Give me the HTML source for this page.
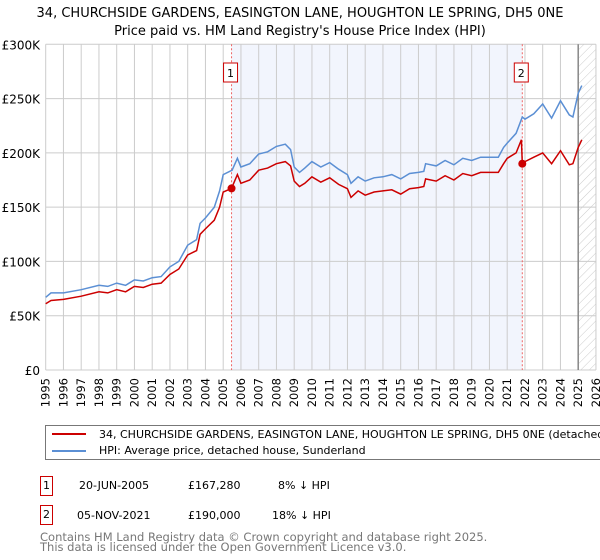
<!DOCTYPE html>
<html><head><meta charset="utf-8"><style>
body{margin:0;width:600px;height:560px;background:#fff;font-family:"Liberation Sans","DejaVu Sans",sans-serif;overflow:hidden;position:relative}
.t{position:absolute;white-space:nowrap}
</style></head><body>
<svg width="600" height="560" style="position:absolute;left:0;top:0">
<defs><pattern id="h" width="6" height="6" patternUnits="userSpaceOnUse" patternTransform="rotate(45)"><line x1="0" y1="0" x2="0" y2="6" stroke="#ccc" stroke-width="1"/></pattern></defs>
<text x="300" y="17" text-anchor="middle" font-size="13" font-family="DejaVu Sans,sans-serif">34, CHURCHSIDE GARDENS, EASINGTON LANE, HOUGHTON LE SPRING, DH5 0NE</text>
<text x="300" y="35" text-anchor="middle" font-size="13" font-family="DejaVu Sans,sans-serif">Price paid vs. HM Land Registry's House Price Index (HPI)</text>
<g id="plot"></g>
</svg>
<div class="t" style="left:45px;top:425px;width:560px;height:35px;border:1px solid #777;box-sizing:border-box;overflow:hidden;font-size:11px;font-family:'DejaVu Sans',sans-serif">
<div style="position:absolute;left:6px;top:7px;width:34px;height:2px;background:#cc0000"></div>
<div class="t" style="left:53px;top:2px">34, CHURCHSIDE GARDENS, EASINGTON LANE, HOUGHTON LE SPRING, DH5 0NE (detached house)</div>
<div style="position:absolute;left:6px;top:24px;width:34px;height:2px;background:#5b8fd4"></div>
<div class="t" style="left:53px;top:18px">HPI: Average price, detached house, Sunderland</div>
</div>
<div style="font-family:'DejaVu Sans',sans-serif;font-size:11px">
<div class="t" style="left:40px;top:476px;width:11px;height:18px;border:1px solid #c00;text-align:center;line-height:18px">1</div>
<div class="t" style="left:79px;top:479px">20-JUN-2005</div>
<div class="t" style="left:188px;top:479px">£167,280</div>
<div class="t" style="left:278px;top:479px">8% ↓ HPI</div>
<div class="t" style="left:40px;top:505px;width:11px;height:18px;border:1px solid #c00;text-align:center;line-height:18px">2</div>
<div class="t" style="left:77px;top:509px">05-NOV-2021</div>
<div class="t" style="left:188px;top:509px">£190,000</div>
<div class="t" style="left:272px;top:509px">18% ↓ HPI</div>
<div class="t" style="left:40px;top:532px;color:#777;font-size:11.5px;line-height:10px">Contains HM Land Registry data © Crown copyright and database right 2025.<br>This data is licensed under the Open Government Licence v3.0.</div>
</div>
<script>
const hpiYears=[1995,1995.3,1996,1997,1998,1998.5,1999,1999.5,2000,2000.5,2001,2001.5,2002,2002.5,2003,2003.5,2003.7,2004,2004.5,2004.8,2005,2005.5,2005.8,2006,2006.5,2007,2007.5,2008,2008.5,2008.8,2009,2009.3,2009.6,2010,2010.5,2011,2011.5,2012,2012.2,2012.6,2013,2013.5,2014,2014.5,2015,2015.5,2016,2016.3,2016.4,2017,2017.5,2018,2018.5,2019,2019.5,2020,2020.5,2020.8,2021,2021.5,2021.85,2022,2022.5,2023,2023.5,2024,2024.5,2024.7,2025,2025.2];
const hpiValues=[67,71,71,74,78,77,80,78,83,82,85,86,95,100,115,120,135,140,150,165,180,184,195,187,190,199,201,206,208,203,187,182,186,192,187,191,185,180,172,178,174,177,178,180,176,181,182,183,190,188,193,189,195,193,196,196,196,205,209,218,233,231,236,245,232,248,235,233,255,262];
const priceYears=[1995,1995.3,1996,1997,1998,1998.5,1999,1999.5,2000,2000.5,2001,2001.5,2002,2002.5,2003,2003.5,2003.7,2004,2004.5,2004.8,2005,2005.47,2005.8,2006,2006.5,2007,2007.5,2008,2008.5,2008.8,2009,2009.3,2009.6,2010,2010.5,2011,2011.5,2012,2012.2,2012.6,2013,2013.5,2014,2014.5,2015,2015.5,2016,2016.3,2016.4,2017,2017.5,2018,2018.5,2019,2019.5,2020,2020.5,2020.8,2021,2021.5,2021.8,2021.85,2022,2022.5,2023,2023.5,2024,2024.5,2024.7,2025,2025.2];
const priceValues=[61,64,65,68,72,71,74,72,77,76,79,80,88,93,106,110,125,130,138,150,164,167.28,180,172,175,184,186,190,192,188,174,169,172,178,173,177,171,167,159,165,161,164,165,166,162,167,168,169,176,174,179,175,181,179,182,182,182,190,195,200,212,190,192,196,200,190,202,189,190,205,212];
const saleYears=[2005.47,2021.85];
const saleValues=[167.28,190];
const saleLabels=["1","2"];
const yTicks=[0,50,100,150,200,250,300];
const yTickLabels=["£0","£50K","£100K","£150K","£200K","£250K","£300K"];
const xTicks=[];for(let y=1995;y<=2026;y++)xTicks.push(y);
const X0=45.7,XS=17.75,Y0=370,YS=325.7/300;
const x=v=>X0+(v-1995)*XS, y=v=>Y0-v*YS;
const NS="http://www.w3.org/2000/svg",g=document.getElementById('plot');
function mk(t,a){const e=document.createElementNS(NS,t);for(const k in a)e.setAttribute(k,a[k]);g.appendChild(e);return e;}
let e;
e=mk('rect',{x:x(saleYears[0]),y:y(300),width:x(saleYears[1])-x(saleYears[0]),height:y(0)-y(300),fill:'#f2f5fd'});


e=mk('rect',{x:x(2025),y:y(300),width:x(2026)-x(2025),height:y(0)-y(300),fill:'url(#h)'});


xTicks.forEach(t=>{
 e=mk('line',{x1:x(t),x2:x(t),y1:y(300),y2:y(0),stroke:'#ccc'});
 
 
 e=mk('text',{x:0,y:0,transform:`translate(${x(t)+4},${y(0)+8}) rotate(-90)`,'text-anchor':'end','font-size':11.5,'font-family':'DejaVu Sans,sans-serif'});e.textContent=t;
 
 
});
yTicks.forEach((t,i)=>{
 e=mk('line',{x1:x(1995),x2:x(2026),y1:y(t),y2:y(t),stroke:'#ccc'});
 
 
 e=mk('text',{x:40,y:y(t)+5,'text-anchor':'end','font-size':12,'font-family':'DejaVu Sans,sans-serif'});e.textContent=yTickLabels[i];
 
 
});
e=mk('line',{x1:x(2025),x2:x(2025),y1:y(300),y2:y(0),stroke:'#888','stroke-width':1.5});


saleYears.forEach((s,i)=>{
 e=mk('line',{x1:x(s),x2:x(s),y1:y(300),y2:y(0),stroke:'#e66','stroke-dasharray':'2,2'});
 
 
 e=mk('rect',{x:x(s)-8,y:63,width:14,height:19,fill:'#fff',stroke:'#c00'});
 
 
 e=mk('text',{x:x(s)-1,y:77,'text-anchor':'middle','font-size':11,'font-family':'DejaVu Sans,sans-serif'});e.textContent=saleLabels[i];
 
 
});
const path=(xs,vs)=>xs.map((v,i)=>(i?'L':'M')+x(v).toFixed(1)+','+y(vs[i]).toFixed(1)).join('');
e=mk('path',{d:path(hpiYears,hpiValues),fill:'none',stroke:'#5b8fd4','stroke-width':1.5});


e=mk('path',{d:path(priceYears,priceValues),fill:'none',stroke:'#cc0000','stroke-width':1.5});


saleYears.forEach((s,i)=>{
 e=mk('circle',{cx:x(s),cy:y(saleValues[i]),r:4,fill:'#cc0000'});
 
 
});
</script>
</body></html>
